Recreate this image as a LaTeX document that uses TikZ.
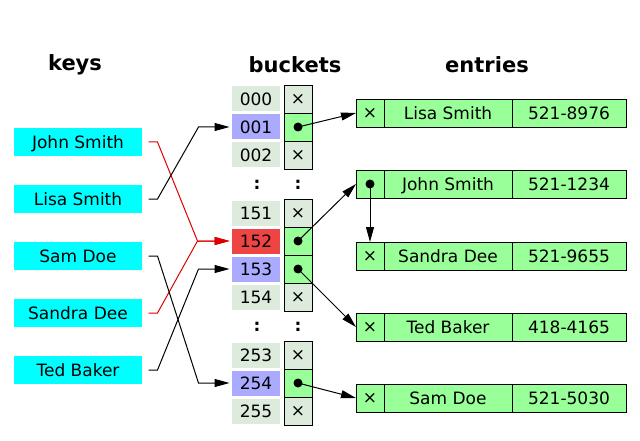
\documentclass[tikz,border=0pt]{standalone}
\usepackage{fontspec}
\setmainfont{DejaVu Sans}
\usetikzlibrary{arrows.meta,positioning}
\definecolor{keycyan}{HTML}{00FFFF}
\definecolor{cellgrey}{HTML}{DDEBDD}
\definecolor{cellblue}{HTML}{AAAAFF}
\definecolor{cellred}{HTML}{EE4444}
\definecolor{cellgreen}{HTML}{99FF99}
\definecolor{linkred}{HTML}{DD0000}
\tikzset{
 keybox/.style={fill=keycyan,minimum width=128pt,minimum height=28pt,inner sep=0pt,text height=12.4pt,text depth=0pt},
 bucket/.style={minimum width=48pt,minimum height=25pt,inner sep=0pt,text height=12.4pt,text depth=0pt},
 slot/.style={draw,line width=0.9pt,minimum width=28pt,minimum height=28pt,inner sep=0pt,outer sep=0pt},
 ecell/.style={draw,fill=cellgreen,line width=0.9pt,minimum height=28pt,inner sep=0pt,outer sep=0pt,text height=12.4pt,text depth=0pt},
 head/.style={font=\fontsize{21}{25}\selectfont\bfseries},
 nil/.style={font=\fontsize{17}{18}\selectfont,text height=,text depth=}
}
\begin{document}
\begin{tikzpicture}[x=1pt,y=-1pt,>={Triangle[length=15pt,width=8pt]},font=\fontsize{17}{20}\selectfont,line width=1pt]
\useasboundingbox (0,0) rectangle (640,441);
\node[head] (h-keys) at (75,65) {keys};
\node[head] (h-buckets) at (295,65) {buckets};
\node[head] (h-entries) at (487,65) {entries};
\foreach \n/\t/\y in {js/John Smith/142,ls/Lisa Smith/199,sam/Sam Doe/256,sd/Sandra Dee/313,tb/Ted Baker/370}
  \node[keybox] (k-\n) at (78,\y) {\t};
\foreach \b/\y in {000/99,002/155,151/213,154/297,253/355,255/411}{
  \node[bucket,fill=cellgrey] (b-\b) at (256,\y) {\b};
  \node[slot,fill=cellgrey,nil] (p-\b) at (298,\y) {×};}
\foreach \b/\y/\c in {001/127/cellblue,152/241/cellred,153/269/cellblue,254/383/cellblue}{
  \node[bucket,fill=\c] (b-\b) at (256,\y) {\b};
  \node[slot,fill=cellgreen] (p-\b) at (298,\y) {};
  \fill (p-\b) circle (4.5pt);}
\foreach \d/\x/\y in {d1/257/185,d2/298/185,d3/257/327,d4/298/327}
  \node (\d) at (\x,\y) {\textbf{:}};
\foreach \n/\t/\num/\y/\m in {ls/Lisa Smith/521-8976/113/×,js/John Smith/521-1234/184/{},sd/Sandra Dee/521-9655/256/×,tb/Ted Baker/418-4165/327/×,sam/Sam Doe/521-5030/398/×}{
  \node[ecell,minimum width=28pt,nil] (e-\n) at (370,\y) {\m};
  \node[ecell,minimum width=128pt,right=0pt of e-\n] (n-\n) {\t};
  \node[ecell,minimum width=114pt,right=0pt of n-\n] (t-\n) {\num};}
\fill (e-js) circle (4.5pt);
\draw[->,linkred,shorten >=2pt] ([xshift=6pt]k-js.east) -- ++(9,0) -- ([xshift=-34pt]b-152.west) -- (b-152.west);
\draw[->,linkred,shorten >=2pt] ([xshift=6pt]k-sd.east) -- ++(9,0) -- ([xshift=-34pt]b-152.west) -- (b-152.west);
\draw[->,shorten >=2pt] ([xshift=6pt]k-ls.east) -- ++(9,0) -- ([xshift=-33pt]b-001.west) -- (b-001.west);
\draw[->,shorten >=2pt] ([xshift=6pt]k-sam.east) -- ++(9,0) -- ([xshift=-33pt]b-254.west) -- (b-254.west);
\draw[->,shorten >=2pt] ([xshift=6pt]k-tb.east) -- ++(9,0) -- ([xshift=-33pt]b-153.west) -- (b-153.west);
\draw[->] (p-001.center) -- (e-ls.west);
\draw[->] (p-152.center) -- (e-js.west);
\draw[->] (p-153.center) -- (e-tb.west);
\draw[->] (p-254.center) -- (e-sam.west);
\draw[->] (e-js.center) -- (e-sd.north);
\end{tikzpicture}
\end{document}
